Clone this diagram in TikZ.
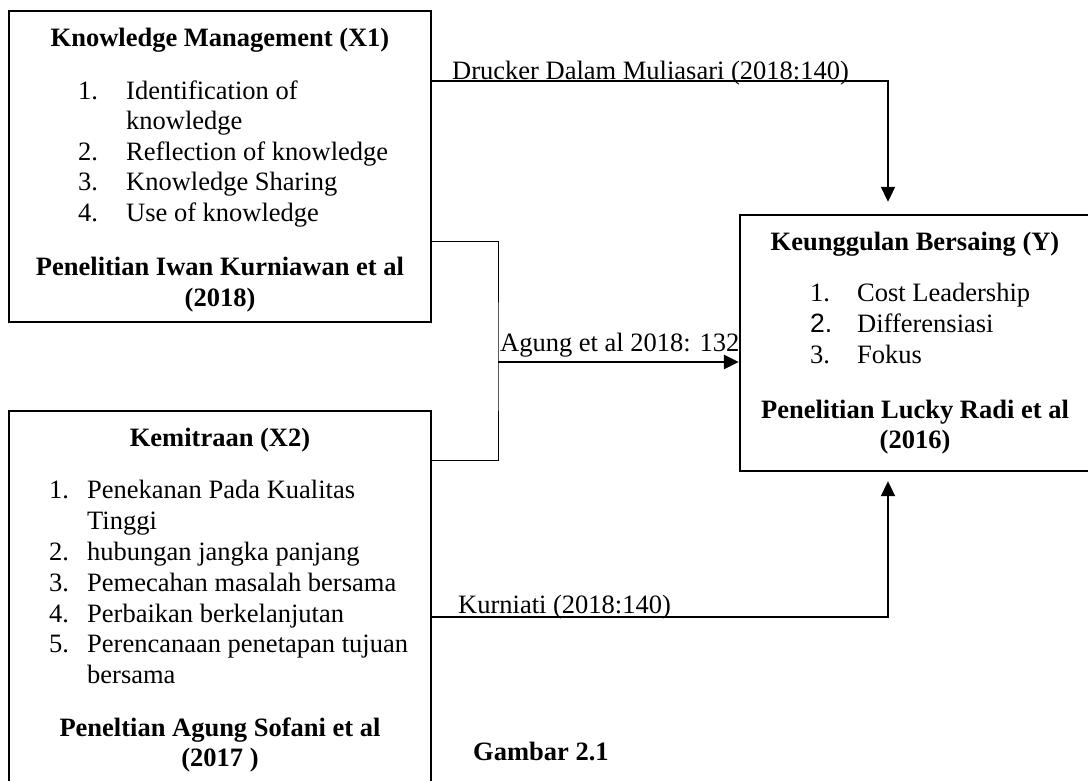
\documentclass[tikz,border=0pt]{standalone}
\usepackage{fontspec}
\setmainfont{Liberation Serif}
\setsansfont{Liberation Sans}
\usetikzlibrary{arrows.meta, positioning}

\newcommand{\sizedfont}{\fontsize{26.5}{30.5}\selectfont}
\tikzset{
  varbox/.style={draw, line width=2.4pt, inner sep=0pt},
  head/.style={anchor=base, inner sep=0pt, font=\sizedfont\bfseries},
  num/.style={anchor=base west, inner sep=0pt},
  txt/.style={anchor=base west, inner sep=0pt},
  reftext/.style={anchor=base west, inner sep=0pt},
  link/.style={line width=2pt, -{Triangle[length=15pt, width=14pt]}},
  bracket/.style={line width=1pt}
}

\begin{document}
\begin{tikzpicture}[x=1pt, y=-1pt, font=\sizedfont]
			\useasboundingbox (0,0) rectangle (1088,780);
			\clip (0,0) rectangle (1088,780);
			% boxes
			\node[varbox, minimum width=422pt, minimum height=311pt] (km) at (220,166.5) {};
			\node[varbox, minimum width=422pt, minimum height=381pt] (kx) at (220,601.5) {};
			\node[varbox, minimum width=350pt, minimum height=256pt] (ky) at (915,343) {};
			% titles and sources
			\node[head] (kmh) at (220,46) {Knowledge Management (X1)};
			\node[head] (kmf1) at (220,275) {Penelitian Iwan Kurniawan et al};
			\node[head] (kmf2) at (220,306) {(2018)};
			\node[head] (kxh) at (220,446) {Kemitraan (X2)};
			\node[head] (kxf1) at (220,736) {Peneltian Agung Sofani et al};
			\node[head] (kxf2) at (220,766) {(2017 )};
			\node[head] (kyh) at (915,250) {Keunggulan Bersaing (Y)};
			\node[head] (kyf1) at (915,418) {Penelitian Lucky Radi et al};
			\node[head] (kyf2) at (915,448) {(2016)};
			% indicators
			\foreach [count=\i] \y in {99,160,190.5,221}{
				\node[num] (kmn\i) at (78,\y) {\i.};
			}
			\foreach [count=\i] \y/\t in {99/Identification of, 129.5/knowledge, 160/Reflection of knowledge, 190.5/Knowledge Sharing, 221/Use of knowledge}{
				\node[txt] (kmt\i) at (126,\y) {\t};
			}
			\foreach [count=\i] \y in {498,560,591,622,652.5}{
				\node[num] (kxn\i) at (49,\y) {\i.};
			}
			\foreach [count=\i] \y/\t in {498/Penekanan Pada Kualitas, 529/Tinggi, 560/hubungan jangka panjang, 591/Pemecahan masalah bersama, 622/Perbaikan berkelanjutan, 652.5/Perencanaan penetapan tujuan, 683/bersama}{
				\node[txt] (kxt\i) at (87,\y) {\t};
			}
			\foreach [count=\i] \y/\n in {301.5/1., 332.5/{\sffamily 2.}, 363.5/3.}{
				\node[num] (kyn\i) at (810,\y) {\n};
			}
			\foreach [count=\i] \y/\t in {301.5/Cost Leadership, 332.5/Differensiasi, 363.5/Fokus}{
				\node[txt] (kyt\i) at (857,\y) {\t};
			}
			% connectors
			\coordinate (junc) at (498,362);
			\draw[link] ([yshift=-71pt]km.north east) -| ([xshift=-27pt, yshift=12pt]ky.north);
			\draw[bracket] ([yshift=-232pt]km.north east) -| (junc) |- ([yshift=-51pt]kx.north east);
			\draw[link, line width=2.5pt] (junc) -- (junc -| ky.west);
			\draw[link] ([yshift=-207pt]kx.north east) -| ([xshift=-27pt, yshift=-9pt]ky.south);
			\node[reftext] (drucker) at (452,79) {Drucker Dalam Muliasari (2018:140)};
			\node[reftext] (agung) at (500,351) {Agung et al 2018: 132};
			\node[reftext] (kurniati) at (458,613) {Kurniati (2018:140)};
			\node[head, anchor=base west] (gambar) at (473,760) {Gambar 2.1};
		\end{tikzpicture}
\end{document}
